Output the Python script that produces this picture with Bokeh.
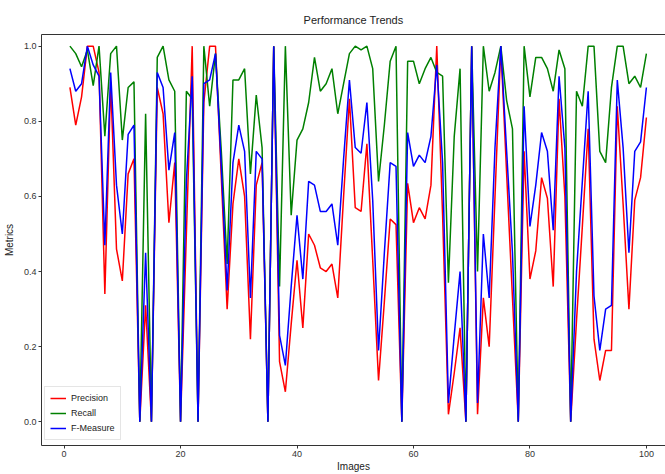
from bokeh.plotting import figure
from bokeh.embed import file_html
from bokeh.resources import INLINE
from bokeh.models import Range1d, FixedTicker, LinearAxis, Legend, LegendItem, PrintfTickFormatter

images = list(range(1, 101))
precision = [0.89, 0.79, 0.865, 1.00, 1.00, 0.93, 0.34, 0.905, 0.46, 0.375,
             0.66, 0.70, 0.0, 0.31, 0.0, 0.89, 0.82, 0.53, 0.69, 0.0,
             0.50, 1.00, 0.0, 0.85, 1.00, 1.00, 0.65, 0.30, 0.58, 0.70,
             0.60, 0.22, 0.63, 0.69, 0.0, 1.00, 0.16, 0.08, 0.26, 0.43,
             0.25, 0.50, 0.47, 0.41, 0.40, 0.42, 0.33, 0.60, 0.86, 0.57,
             0.56, 0.74, 0.43, 0.11, 0.32, 0.54, 0.525, 0.0, 0.635, 0.53,
             0.57, 0.54, 0.63, 1.00, 0.55, 0.02, 0.13, 0.25, 0.0, 1.00,
             0.02, 0.33, 0.20, 0.60, 1.00, 0.66, 0.33, 0.0, 0.72, 0.38,
             0.455, 0.65, 0.595, 0.36, 0.86, 0.60, 0.0, 0.27, 0.52, 0.78,
             0.22, 0.11, 0.19, 0.19, 0.84, 0.58, 0.30, 0.59, 0.65, 0.81]
recall = [1.00, 0.98, 0.945, 0.99, 0.895, 1.00, 0.76, 0.98, 1.00, 0.75,
          0.89, 0.905, 0.0, 0.82, 0.0, 0.97, 1.00, 0.91, 0.88, 0.0,
          0.88, 0.86, 0.0, 1.00, 0.84, 0.98, 0.72, 0.42, 0.91, 0.91,
          0.94, 0.66, 0.87, 0.73, 0.0, 1.00, 0.36, 1.00, 0.55, 0.75,
          0.78, 0.85, 0.97, 0.88, 0.90, 0.94, 0.82, 0.90, 0.98, 1.00,
          0.99, 1.00, 0.94, 0.64, 0.79, 0.96, 1.00, 0.0, 0.96, 0.96,
          0.90, 0.94, 0.97, 0.93, 0.92, 0.37, 0.76, 0.94, 0.0, 1.00,
          0.40, 1.00, 0.88, 0.93, 1.00, 0.855, 0.78, 0.0, 1.00, 0.865,
          0.97, 0.97, 0.94, 0.88, 0.99, 0.94, 0.0, 0.88, 0.84, 1.00,
          1.00, 0.72, 0.69, 0.89, 1.00, 1.00, 0.90, 0.92, 0.89, 0.98]
f_measure = [0.94, 0.88, 0.90, 1.00, 0.95, 0.92, 0.47, 0.93, 0.63, 0.50,
             0.765, 0.79, 0.0, 0.45, 0.0, 0.93, 0.89, 0.67, 0.77, 0.0,
             0.64, 0.92, 0.0, 0.90, 0.91, 0.98, 0.68, 0.35, 0.69, 0.79,
             0.72, 0.33, 0.72, 0.70, 0.0, 1.00, 0.23, 0.15, 0.36, 0.55,
             0.38, 0.64, 0.63, 0.56, 0.56, 0.58, 0.47, 0.70, 0.91, 0.73,
             0.715, 0.85, 0.59, 0.19, 0.45, 0.69, 0.68, 0.0, 0.77, 0.68,
             0.71, 0.69, 0.76, 0.95, 0.69, 0.05, 0.23, 0.40, 0.0, 1.00,
             0.05, 0.50, 0.33, 0.73, 1.00, 0.72, 0.45, 0.0, 0.84, 0.52,
             0.63, 0.77, 0.72, 0.51, 0.92, 0.73, 0.0, 0.40, 0.64, 0.88,
             0.335, 0.19, 0.30, 0.31, 0.91, 0.73, 0.45, 0.72, 0.745, 0.89]
x_ticks = [0, 20, 40, 60, 80, 100]
y_ticks = [0.0, 0.2, 0.4, 0.6, 0.8, 1.0]

FONT = "Liberation Sans"
AX = "#333333"

p = figure(width=665, height=474, output_backend="svg", toolbar_location=None,
           x_range=Range1d(-3.88, 103.28), y_range=Range1d(-0.063, 1.031),
           min_border_left=41, min_border_right=0, min_border_top=34, min_border_bottom=27)
p.title.text = "Performance Trends"
p.title.align = "center"
p.title.text_font = FONT
p.title.text_font_size = "11px"
p.title.text_font_style = "normal"
p.title.text_color = "#222222"
p.title.standoff = 17

p.grid.visible = False
p.outline_line_color = None
p.background_fill_color = "white"

r1 = p.line(images, precision, line_color="#ff0000", line_width=1.5)
r2 = p.line(images, recall, line_color="#008000", line_width=1.5)
r3 = p.line(images, f_measure, line_color="#0000ff", line_width=1.5)

for ax in (p.xaxis[0], p.yaxis[0]):
    ax.axis_line_color = AX
    ax.major_tick_line_color = AX
    ax.minor_tick_line_color = None
    ax.major_tick_out = 3
    ax.major_tick_in = 0
    ax.major_label_text_font = FONT
    ax.major_label_text_font_size = "9px"
    ax.major_label_text_color = "#333333"
    ax.axis_label_text_font = FONT
    ax.axis_label_text_font_size = "10px"
    ax.axis_label_text_font_style = "normal"
    ax.axis_label_text_color = "#222222"
    ax.major_label_standoff = 2
    ax.axis_label_standoff = 1

p.xaxis[0].ticker = FixedTicker(ticks=x_ticks)
p.yaxis[0].ticker = FixedTicker(ticks=y_ticks)
p.yaxis[0].formatter = PrintfTickFormatter(format="%.1f")
p.yaxis[0].axis_label_standoff = 6
p.xaxis[0].axis_label = "Images"
p.yaxis[0].axis_label = "Metrics"

top = LinearAxis(axis_line_color=AX, axis_line_width=1.2, major_tick_line_color=None,
                 minor_tick_line_color=None, major_label_text_font_size="0px")
top.ticker = FixedTicker(ticks=[])
p.add_layout(top, "above")

legend = Legend(items=[LegendItem(label="Precision", renderers=[r1]),
                       LegendItem(label="Recall", renderers=[r2]),
                       LegendItem(label="F-Measure", renderers=[r3])],
                location=(3, 5))
legend.label_text_font = FONT
legend.label_text_font_size = "9px"
legend.label_text_color = "#222222"
legend.glyph_width = 16
legend.glyph_height = 12
legend.label_height = 12
legend.spacing = 3
legend.padding = 5
legend.margin = 0
legend.border_line_color = "#cccccc"
legend.border_line_width = 1
legend.background_fill_alpha = 0.9
p.add_layout(legend)

open("out.html", "w").write(file_html(p, INLINE))
